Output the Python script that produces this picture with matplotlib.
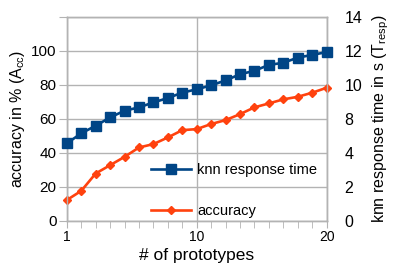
import numpy as np
import matplotlib
matplotlib.use("Agg")
import matplotlib.pyplot as plt
from matplotlib.lines import Line2D

plt.rcParams['font.family'] = ['Liberation Sans', 'DejaVu Sans']
plt.rcParams['mathtext.fontset'] = 'custom'
plt.rcParams['mathtext.rm'] = 'Liberation Sans'
plt.rcParams['mathtext.it'] = 'Liberation Sans'

# data
x_labels = ['1'] + [''] * 8 + ['10'] + [''] * 8 + ['20']
accuracy = [12.2, 17.6, 27.8, 32.7, 37.6, 43.1, 45.1, 49.0, 53.3, 53.9,
            56.9, 59.2, 62.7, 66.7, 69.0, 71.4, 72.9, 75.3, 78.2]
resp_time = [5.31, 6.00, 6.52, 7.09, 7.55, 7.78, 8.12, 8.42, 8.79, 9.02,
             9.29, 9.63, 10.05, 10.29, 10.69, 10.84, 11.19, 11.38, 11.57]
left_ticks = [0, 20, 40, 60, 80, 100, 120]
left_labels = ['0', '20', '40', '60', '80', '100', '']
right_labels = ['0', '2', '4', '8', '10', '12', '14']

blue = '#004586'
orange = '#ff420e'
grid_c = '#b3b3b3'

fig = plt.figure(figsize=(3.93, 2.67), dpi=100)
ax = fig.add_axes([0.170, 0.173, 0.661, 0.7645])
ax2 = ax.twinx()

xs = np.arange(len(accuracy))
ax.plot(xs, accuracy, color=orange, lw=1.9, marker='D', markersize=4.5,
        zorder=3, clip_on=False)
ax2.plot(xs, resp_time, color=blue, lw=1.9, marker='s', markersize=7.2,
         zorder=3, clip_on=False)

ax.set_xlim(0, len(xs) - 1)
ax.set_ylim(0, 120)
ax2.set_ylim(0, 14)

ax.set_xticks([i for i, l in enumerate(x_labels) if l])
ax.set_xticklabels([l for l in x_labels if l])
ax.set_xticks(xs, minor=True)
ax.set_yticks(left_ticks)
ax.set_yticklabels(left_labels)
ax2.set_yticks(np.linspace(0, 14, 7))
ax2.set_yticklabels(right_labels)

ax.grid(True, which='major', color=grid_c, lw=1.0)
ax.set_axisbelow(True)
for a in (ax, ax2):
    for s in a.spines.values():
        s.set_color(grid_c)
        s.set_linewidth(1.0)

ax.tick_params(axis='x', which='both', length=5, color=grid_c, labelsize=10,
               pad=1.5, labelcolor='black')
ax.tick_params(axis='y', length=6, color=grid_c, labelsize=11, pad=1.5)
ax2.tick_params(axis='y', length=0, labelsize=11.5, pad=13)

ax.set_xlabel('# of prototypes', fontsize=12.5, labelpad=3)
ax.set_ylabel(r'accuracy in % ($\mathrm{A_{cc}}$)', fontsize=11.5, labelpad=3)
ax2.set_ylabel(r'knn response time in s ($\mathrm{T_{resp}}$)', fontsize=11.5,
               labelpad=6)

handles = [Line2D([], [], color=blue, lw=1.9, marker='s', markersize=7.2),
           Line2D([], [], color=orange, lw=1.9, marker='D', markersize=4.5)]
ax2.legend(handles, ['knn response time', 'accuracy'], frameon=False,
           loc='upper left', bbox_to_anchor=(151 / 393, 1 - 163 / 267),
           bbox_transform=fig.transFigure, borderpad=0, borderaxespad=0,
           handlelength=2.75, handletextpad=0.4, labelspacing=1.85,
           fontsize=10.5)

fig.savefig('out.png', dpi=100)
